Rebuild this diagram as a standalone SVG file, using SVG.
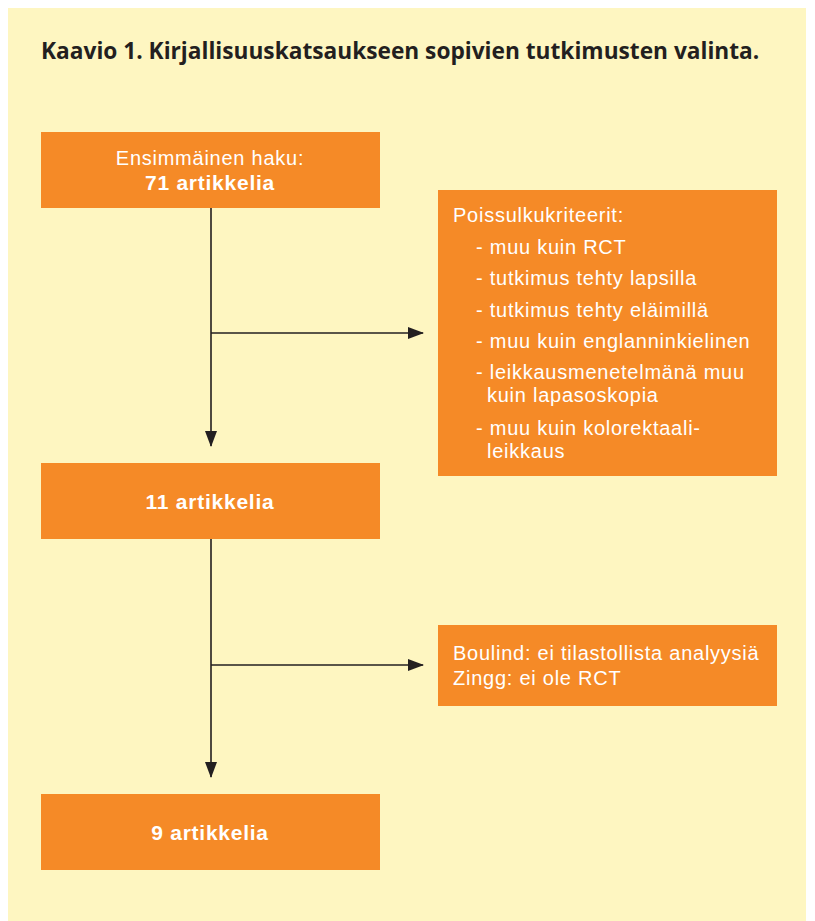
<svg xmlns="http://www.w3.org/2000/svg" width="815" height="921" viewBox="0 0 815 921">
<style>
.bg{fill:#fef6c1}
.box{fill:#f58a27}
.t{font-family:"Liberation Sans",Arial,sans-serif;font-size:20px;letter-spacing:0.75px;fill:#fff}
.b{font-weight:bold;font-size:21px}
.title{font-family:"Open Sans","Noto Sans","Liberation Sans",sans-serif;font-size:22.7px;font-weight:bold;fill:#231f20}
.c{text-anchor:middle}
.ln{stroke:#231f20;stroke-width:1.6;fill:none}
</style>
<defs>
<marker id="ah" markerWidth="16" markerHeight="12" refX="15" refY="6" orient="auto" markerUnits="userSpaceOnUse">
<path d="M0,0 L16,6 L0,12 Z" fill="#231f20"/>
</marker>
</defs>
<rect class="bg" x="8" y="8" width="798" height="913"/>
<text class="title" x="41" y="59">Kaavio 1. Kirjallisuuskatsaukseen sopivien tutkimusten valinta.</text>
<g id="connectors">
<line class="ln" x1="211" y1="208" x2="211" y2="446" marker-end="url(#ah)"/>
<line class="ln" x1="211" y1="333" x2="423" y2="333" marker-end="url(#ah)"/>
<line class="ln" x1="211" y1="539" x2="211" y2="777" marker-end="url(#ah)"/>
<line class="ln" x1="211" y1="665" x2="423" y2="665" marker-end="url(#ah)"/>
</g>
<g id="n1">
<rect class="box" x="41" y="132" width="339" height="76"/>
<text class="t c" x="210" y="165">Ensimmäinen haku:</text>
<text class="t c b" x="210" y="190">71 artikkelia</text>
</g>
<g id="n2">
<rect class="box" x="438" y="190" width="339" height="286"/>
<text class="t" x="453" y="222">Poissulkukriteerit:</text>
<text class="t" x="476" y="254">- muu kuin RCT</text>
<text class="t" x="476" y="285">- tutkimus tehty lapsilla</text>
<text class="t" x="476" y="317">- tutkimus tehty eläimillä</text>
<text class="t" x="476" y="348">- muu kuin englanninkielinen</text>
<text class="t" x="476" y="379">- leikkausmenetelmänä muu</text>
<text class="t" x="487" y="402">kuin lapasoskopia</text>
<text class="t" x="476" y="435">- muu kuin kolorektaali-</text>
<text class="t" x="487" y="458">leikkaus</text>
</g>
<g id="n3">
<rect class="box" x="41" y="463" width="339" height="76"/>
<text class="t c b" x="210" y="509">11 artikkelia</text>
</g>
<g id="n4">
<rect class="box" x="438" y="625" width="339" height="81"/>
<text class="t" x="453" y="660">Boulind: ei tilastollista analyysiä</text>
<text class="t" x="453" y="685">Zingg: ei ole RCT</text>
</g>
<g id="n5">
<rect class="box" x="41" y="794" width="339" height="76"/>
<text class="t c b" x="210" y="840">9 artikkelia</text>
</g>
</svg>
